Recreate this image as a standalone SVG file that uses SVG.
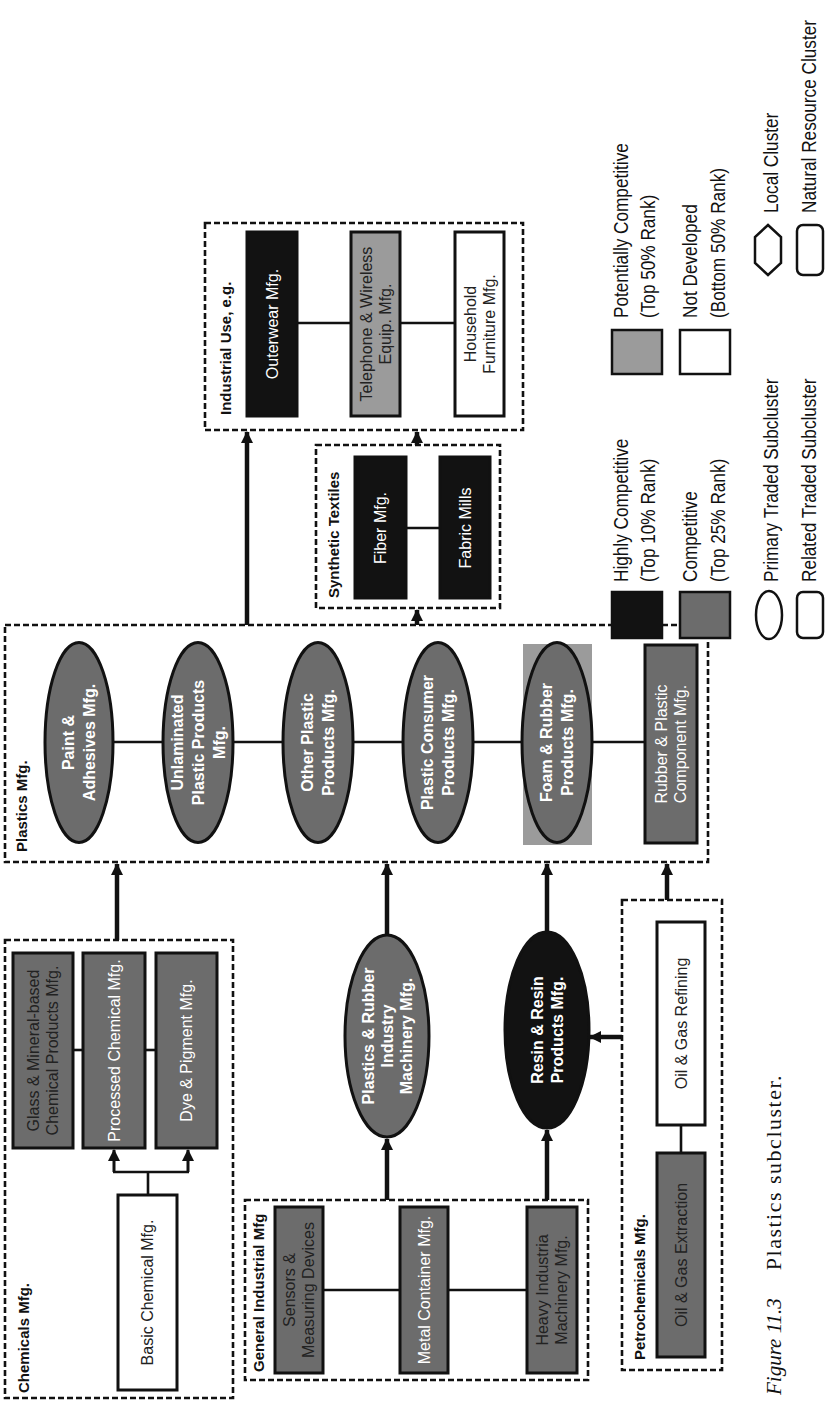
<svg xmlns="http://www.w3.org/2000/svg" width="826" height="1402" viewBox="0 0 826 1402">
<defs>
<marker id="ah" markerUnits="userSpaceOnUse" markerWidth="12" markerHeight="12" refX="11" refY="6" orient="auto">
<path d="M0,0 L12,6 L0,12 z" fill="#111"/>
</marker>
<style>
.box{fill:none;stroke:#111;stroke-width:2.6;stroke-dasharray:6 3}
.nd{stroke:#111;stroke-width:3}
.blk{fill:#121212}.dg{fill:#6c6c6c}.lg{fill:#9b9b9b}.wh{fill:#fff}
.t{font-family:"Liberation Sans",Arial,sans-serif;font-size:16px;text-anchor:middle}
.tb{font-weight:bold}
.tw{fill:#fff}.td{fill:#222}
.lbl{font-family:"Liberation Sans",Arial,sans-serif;font-size:15px;font-weight:bold;fill:#111}
.arr{stroke:#111;stroke-width:4.5;fill:none}
.ln{stroke:#111;stroke-width:2.6;fill:none}
.lt{font-family:"Liberation Sans",Arial,sans-serif;font-size:20px;fill:#111}
.cap{font-family:"Liberation Serif","Times New Roman",serif;font-size:21px;fill:#111}
</style>
</defs>
<rect width="826" height="1402" fill="#fff"/>

<g id="connectors">
<line class="arr" x1="247" y1="625" x2="247" y2="432" marker-end="url(#ah)"/>
<line class="arr" x1="417" y1="625" x2="417" y2="610" marker-end="url(#ah)"/>
<line class="arr" x1="417" y1="445" x2="417" y2="432" marker-end="url(#ah)"/>
<line class="arr" x1="117" y1="940" x2="117" y2="864" marker-end="url(#ah)"/>
<line class="arr" x1="387" y1="935" x2="387" y2="864" marker-end="url(#ah)"/>
<line class="arr" x1="387" y1="1200" x2="387" y2="1139" marker-end="url(#ah)"/>
<line class="arr" x1="547" y1="932" x2="547" y2="864" marker-end="url(#ah)"/>
<line class="arr" x1="547" y1="1200" x2="547" y2="1130" marker-end="url(#ah)"/>
<line class="arr" x1="667" y1="900" x2="667" y2="864" marker-end="url(#ah)"/>
<line class="arr" x1="622" y1="1037" x2="590" y2="1037" marker-end="url(#ah)"/>
<line class="ln" x1="297" y1="323" x2="351" y2="323"/>
<line class="ln" x1="400" y1="323" x2="455" y2="323"/>
<line class="ln" x1="406" y1="528" x2="440" y2="528"/>
<line class="ln" x1="113" y1="742" x2="645" y2="742"/>
<line class="ln" x1="73" y1="1050" x2="83" y2="1050"/>
<line class="ln" x1="145" y1="1050" x2="156" y2="1050"/>
<path class="ln" d="M148,1195 V1172 M113,1172 H189"/>
<line class="arr" style="stroke-width:3" x1="114" y1="1172" x2="114" y2="1150" marker-end="url(#ah)"/>
<line class="arr" style="stroke-width:3" x1="188" y1="1172" x2="188" y2="1150" marker-end="url(#ah)"/>
<line class="ln" x1="323" y1="1290" x2="400" y2="1290"/>
<line class="ln" x1="448" y1="1290" x2="527" y2="1290"/>
<line class="ln" x1="681" y1="1125" x2="681" y2="1153"/>
</g>

<g id="industrial-use">
<rect class="box" x="205" y="223" width="318" height="207"/>
<text class="lbl" transform="translate(231 415) rotate(-90)">Industrial Use, e.g.</text>
</g>
<g id="outerwear">
<rect class="nd blk" x="247" y="232" width="50" height="184"/>
<text class="t tw" transform="translate(272 324) rotate(-90)"><tspan x="0" y="5.6">Outerwear Mfg.</tspan></text>
</g>
<g id="telephone">
<rect class="nd lg" x="351" y="232" width="49" height="184"/>
<text class="t td" transform="translate(375.5 324) rotate(-90)"><tspan x="0" y="-3.9">Telephone &amp; Wireless</tspan><tspan x="0" y="15.1">Equip. Mfg.</tspan></text>
</g>
<g id="household">
<rect class="nd wh" x="455" y="232" width="49" height="184"/>
<text class="t td" transform="translate(479.5 324) rotate(-90)"><tspan x="0" y="-3.9">Household</tspan><tspan x="0" y="15.1">Furniture Mfg.</tspan></text>
</g>

<g id="synthetic-textiles">
<rect class="box" x="316" y="445" width="184" height="163"/>
<text class="lbl" transform="translate(339 598) rotate(-90)">Synthetic Textiles</text>
</g>
<g id="fiber">
<rect class="nd blk" x="355" y="457" width="51" height="141"/>
<text class="t tw" transform="translate(380.5 528) rotate(-90)"><tspan x="0" y="5.6">Fiber Mfg.</tspan></text>
</g>
<g id="fabric">
<rect class="nd blk" x="440" y="457" width="50" height="141"/>
<text class="t tw" transform="translate(465 528) rotate(-90)"><tspan x="0" y="5.6">Fabric Mills</tspan></text>
</g>

<g id="plastics">
<rect class="box" x="5" y="625" width="703" height="237"/>
<text class="lbl" transform="translate(27 852) rotate(-90)">Plastics Mfg.</text>
</g>
<g id="paint">
<ellipse class="nd dg" cx="79" cy="742.5" rx="34" ry="100"/>
<text class="t tb tw" transform="translate(79 742.5) rotate(-90)"><tspan x="0" y="-4.9">Paint &amp;</tspan><tspan x="0" y="16.1">Adhesives Mfg.</tspan></text>
</g>
<g id="unlaminated">
<ellipse class="nd dg" cx="198" cy="742.5" rx="35" ry="100"/>
<text class="t tb tw" transform="translate(198 742.5) rotate(-90)"><tspan x="0" y="-15.4">Unlaminated</tspan><tspan x="0" y="5.6">Plastic Products</tspan><tspan x="0" y="26.6">Mfg.</tspan></text>
</g>
<g id="other-plastic">
<ellipse class="nd dg" cx="318" cy="742.5" rx="35" ry="100"/>
<text class="t tb tw" transform="translate(318 742.5) rotate(-90)"><tspan x="0" y="-4.9">Other Plastic</tspan><tspan x="0" y="16.1">Products Mfg.</tspan></text>
</g>
<g id="plastic-consumer">
<ellipse class="nd dg" cx="438" cy="742.5" rx="35" ry="100"/>
<text class="t tb tw" transform="translate(438 742.5) rotate(-90)"><tspan x="0" y="-4.9">Plastic Consumer</tspan><tspan x="0" y="16.1">Products Mfg.</tspan></text>
</g>
<g id="foam-rubber">
<rect class="lg" x="523" y="644" width="69" height="201"/>
<ellipse class="nd dg" cx="557" cy="742.5" rx="35" ry="100"/>
<text class="t tb tw" transform="translate(557 742.5) rotate(-90)"><tspan x="0" y="-4.9">Foam &amp; Rubber</tspan><tspan x="0" y="16.1">Products Mfg.</tspan></text>
</g>
<g id="rubber-plastic">
<rect class="nd dg" x="645" y="645" width="52" height="198"/>
<text class="t tw" transform="translate(671 744) rotate(-90)"><tspan x="0" y="-3.9">Rubber &amp; Plastic</tspan><tspan x="0" y="15.1">Component Mfg.</tspan></text>
</g>

<g id="chemicals">
<rect class="box" x="5" y="940" width="228" height="458"/>
<text class="lbl" transform="translate(29 1393) rotate(-90)">Chemicals Mfg.</text>
</g>
<g id="glass">
<rect class="nd dg" x="13" y="953" width="60" height="195"/>
<text class="t td" transform="translate(43 1050.5) rotate(-90)"><tspan x="0" y="-3.9">Glass &amp; Mineral-based</tspan><tspan x="0" y="15.1">Chemical Products Mfg.</tspan></text>
</g>
<g id="processed">
<rect class="nd dg" x="83" y="953" width="62" height="195"/>
<text class="t tw" transform="translate(114 1050.5) rotate(-90)"><tspan x="0" y="5.6">Processed Chemical Mfg.</tspan></text>
</g>
<g id="dye">
<rect class="nd dg" x="156" y="953" width="61" height="195"/>
<text class="t tw" transform="translate(186.5 1050.5) rotate(-90)"><tspan x="0" y="5.6">Dye &amp; Pigment Mfg.</tspan></text>
</g>
<g id="basic">
<rect class="nd wh" x="118" y="1195" width="59" height="195"/>
<text class="t td" transform="translate(147.5 1292.5) rotate(-90)"><tspan x="0" y="5.6">Basic Chemical Mfg.</tspan></text>
</g>

<g id="pr-machinery">
<ellipse class="nd dg" cx="387" cy="1036" rx="42" ry="101"/>
<text class="t tb tw" transform="translate(387 1036) rotate(-90)"><tspan x="0" y="-13.4">Plastics &amp; Rubber</tspan><tspan x="0" y="5.6">Industry</tspan><tspan x="0" y="24.6">Machinery Mfg.</tspan></text>
</g>
<g id="resin">
<ellipse class="nd blk" cx="547" cy="1030" rx="42" ry="98"/>
<text class="t tb tw" transform="translate(547 1030) rotate(-90)"><tspan x="0" y="-4.4">Resin &amp; Resin</tspan><tspan x="0" y="15.6">Products Mfg.</tspan></text>
</g>

<g id="general-industrial">
<rect class="box" x="245" y="1200" width="343" height="180"/>
<text class="lbl" transform="translate(264 1372) rotate(-90)">General Industrial Mfg</text>
</g>
<g id="sensors">
<rect class="nd dg" x="275" y="1207" width="48" height="166"/>
<text class="t td" transform="translate(299 1290) rotate(-90)"><tspan x="0" y="-3.9">Sensors &amp;</tspan><tspan x="0" y="15.1">Measuring Devices</tspan></text>
</g>
<g id="metal">
<rect class="nd dg" x="400" y="1207" width="48" height="166"/>
<text class="t tw" transform="translate(424 1290) rotate(-90)"><tspan x="0" y="5.6">Metal Container Mfg.</tspan></text>
</g>
<g id="heavy">
<rect class="nd dg" x="527" y="1207" width="50" height="166"/>
<text class="t td" transform="translate(552 1290) rotate(-90)"><tspan x="0" y="-3.9">Heavy Industria</tspan><tspan x="0" y="15.1">Machinery Mfg.</tspan></text>
</g>

<g id="petrochemicals">
<rect class="box" x="622" y="900" width="100" height="470"/>
<text class="lbl" transform="translate(645 1360) rotate(-90)">Petrochemicals Mfg.</text>
</g>
<g id="refining">
<rect class="nd wh" x="657" y="922" width="48" height="203"/>
<text class="t td" transform="translate(681 1023.5) rotate(-90)"><tspan x="0" y="5.6">Oil &amp; Gas Refining</tspan></text>
</g>
<g id="extraction">
<rect class="nd dg" x="657" y="1153" width="48" height="204"/>
<text class="t td" transform="translate(681 1255) rotate(-90)"><tspan x="0" y="5.6">Oil &amp; Gas Extraction</tspan></text>
</g>

<g id="legend">
<rect class="blk" stroke="#111" stroke-width="2.5" x="612" y="592" width="50" height="46"/>
<text class="lt" transform="translate(628 582) rotate(-90) scale(0.86 1)">Highly Competitive</text>
<text class="lt" transform="translate(655 582) rotate(-90) scale(0.86 1)">(Top 10% Rank)</text>
<rect class="dg" stroke="#111" stroke-width="2.5" x="680" y="592" width="50" height="46"/>
<text class="lt" transform="translate(697 582) rotate(-90) scale(0.86 1)">Competitive</text>
<text class="lt" transform="translate(725 582) rotate(-90) scale(0.86 1)">(Top 25% Rank)</text>
<ellipse fill="#fff" stroke="#111" stroke-width="2.5" cx="769" cy="615" rx="13" ry="24"/>
<text class="lt" transform="translate(778 582) rotate(-90) scale(0.86 1)">Primary Traded Subcluster</text>
<rect fill="#fff" stroke="#111" stroke-width="2.5" x="797" y="592" width="26" height="46" rx="6"/>
<text class="lt" transform="translate(816 582) rotate(-90) scale(0.86 1)">Related Traded Subcluster</text>
<rect class="lg" stroke="#111" stroke-width="2.5" x="612" y="330" width="50" height="44"/>
<text class="lt" transform="translate(628 318) rotate(-90) scale(0.86 1)">Potentially Competitive</text>
<text class="lt" transform="translate(655 318) rotate(-90) scale(0.86 1)">(Top 50% Rank)</text>
<rect class="wh" stroke="#111" stroke-width="2.5" x="680" y="330" width="50" height="44"/>
<text class="lt" transform="translate(697 318) rotate(-90) scale(0.86 1)">Not Developed</text>
<text class="lt" transform="translate(725 318) rotate(-90) scale(0.86 1)">(Bottom 50% Rank)</text>
<polygon fill="#fff" stroke="#111" stroke-width="2.5" points="768,225 781,237 781,263 768,275 755,263 755,237"/>
<text class="lt" transform="translate(778 213) rotate(-90) scale(0.86 1)">Local Cluster</text>
<rect fill="#fff" stroke="#111" stroke-width="2.5" x="797" y="225" width="26" height="50" rx="6"/>
<text class="lt" transform="translate(816 213) rotate(-90) scale(0.86 1)">Natural Resource Cluster</text>
</g>

<g id="caption">
<text class="cap" transform="translate(781 1395) rotate(-90)"><tspan font-style="italic">Figure 11.3</tspan><tspan dx="28" font-size="22" letter-spacing="1.5">Plastics subcluster.</tspan></text>
</g>
</svg>
